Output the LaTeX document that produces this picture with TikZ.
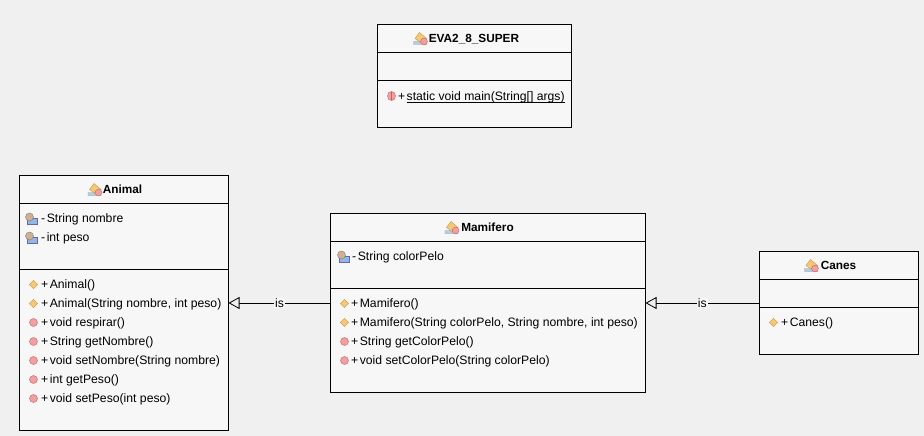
\documentclass[tikz,border=0pt]{standalone}
\usepackage{fontspec}
\setmainfont{Liberation Sans}
\usetikzlibrary{arrows.meta}
\definecolor{bgc}{HTML}{F0F0F0}
\definecolor{boxc}{HTML}{F7F7F7}
\definecolor{methc}{HTML}{F0A0A0}
\definecolor{methd}{HTML}{C86060}
\definecolor{ctorc}{HTML}{F5C878}
\definecolor{ctord}{HTML}{C89840}
\definecolor{fielda}{HTML}{90B8E0}
\definecolor{fieldb}{HTML}{D0B090}
\newcommand{\vis}[1]{#1\hspace{1.5pt}}
\tikzset{
 x=1pt,y=-1pt,
 classbox/.style={draw=black,line width=0.9pt,fill=boxc,inner sep=0pt,outer sep=0pt},
 sep/.style={draw=black,line width=0.9pt},
 title/.style={font=\fontsize{11.8}{12}\selectfont\bfseries,anchor=mid,inner sep=0pt,yshift=-1.8pt},
 member/.style={font=\fontsize{12.2}{13}\selectfont,anchor=mid west,inner sep=0pt,yshift=-1.8pt},
 gen/.style={draw=black,line width=0.8pt,-{Triangle[open,fill=bgc,length=11pt,width=12pt]}},
 islabel/.style={font=\fontsize{12.2}{13}\selectfont,fill=boxc,inner sep=1pt,midway},
 pics/methodicon/.style={code={\fill[methc,draw=methd,line width=0.4pt] (0,0) circle (4);}},
 pics/staticicon/.style={code={\fill[methc,draw=methd,line width=0.4pt] (0,0) ellipse (4 and 4.6);\draw[methd,line width=0.4pt] (0,-4.2)--(0,4.2);}},
 pics/ctoricon/.style={code={\fill[ctorc,draw=ctord,line width=0.4pt] (-4.2,0)--(0,-4.2)--(4.2,0)--(0,4.2)--cycle;}},
 pics/fieldicon/.style={code={\fill[fielda,draw=black!50!blue!60,line width=0.4pt] (-3.5,0) rectangle (6,6);\fill[fieldb,draw=black!50,line width=0.4pt] (-1.5,-1) circle (4);}},
 pics/classicon/.style={code={\fill[fielda!70!white,draw=black!40,line width=0.3pt] (-7,6)--(-7,3)--(-2,3)--(-2,0)--(6,6)--cycle;\fill[ctorc,draw=ctord,line width=0.4pt] (-5.5,0)--(-1,-6)--(6,0)--(1,4.5)--cycle;\fill[methc,draw=methd,line width=0.4pt] (3.5,3) circle (3.4);}},
}
\newcommand{\sepline}[3]{\draw[sep] (#1,#3) -- (#2,#3);}
\begin{document}
\begin{tikzpicture}
\useasboundingbox[fill=bgc] (0,0) rectangle (924,436);
% EVA2_8_SUPER
\node[classbox,minimum width=194pt,minimum height=103pt] (eva) at (474.5,75.8) {};
\sepline{377.5}{571.5}{52.3}
\sepline{377.5}{571.5}{80.3}
\pic at (420.5,38.5) {classicon};
\node[title] (evat) at (474,38.5) {EVA2\_8\_SUPER};
\pic at (391.5,96) {staticicon};
\node[member] (evam) at (398,96) {+};
\node[member] (evam2) at (406.5,96) {static void main(String[] args)};
\draw[line width=0.7pt] ([yshift=-2.2pt]evam2.base west) -- ([yshift=-2.2pt]evam2.base east);
% Animal
\node[classbox,minimum width=209pt,minimum height=255pt] (animal) at (124,303) {};
\sepline{19.5}{228.5}{203.3}
\sepline{19.5}{228.5}{269}
\pic at (95,189.5) {classicon};
\node[title] (animalt) at (122.5,189.5) {Animal};
\pic at (31,218) {fieldicon};
\node[member] (a1) at (41,218.5) {\vis{-}String nombre};
\pic at (31,237) {fieldicon};
\node[member] (a2) at (41,237.5) {\vis{-}int peso};
\pic at (33.5,284.5) {ctoricon};
\node[member] (a3) at (41,284.5) {\vis{+}Animal()};
\pic at (33.5,303.5) {ctoricon};
\node[member] (a4) at (41,303.5) {\vis{+}Animal(String nombre, int peso)};
\pic at (33.5,322.5) {methodicon};
\node[member] (a5) at (41,322.5) {\vis{+}void respirar()};
\pic at (33.5,341.5) {methodicon};
\node[member] (a6) at (41,341.5) {\vis{+}String getNombre()};
\pic at (33.5,360.5) {methodicon};
\node[member] (a7) at (41,360.5) {\vis{+}void setNombre(String nombre)};
\pic at (33.5,379.5) {methodicon};
\node[member] (a8) at (41,379.5) {\vis{+}int getPeso()};
\pic at (33.5,398.5) {methodicon};
\node[member] (a9) at (41,398.5) {\vis{+}void setPeso(int peso)};
% Mamifero
\node[classbox,minimum width=315pt,minimum height=179pt] (mamifero) at (488,303) {};
\sepline{330.5}{645.5}{241.5}
\sepline{330.5}{645.5}{288.5}
\pic at (452,227.5) {classicon};
\node[title] (mamt) at (487.5,227.5) {Mamifero};
\pic at (343,256) {fieldicon};
\node[member] (m1) at (352,256.5) {\vis{-}String colorPelo};
\pic at (344.5,303.5) {ctoricon};
\node[member] (m2) at (351,303.5) {\vis{+}Mamifero()};
\pic at (344.5,322.5) {ctoricon};
\node[member] (m3) at (351,322.5) {\vis{+}Mamifero(String colorPelo, String nombre, int peso)};
\pic at (344.5,341.5) {methodicon};
\node[member] (m4) at (351,341.5) {\vis{+}String getColorPelo()};
\pic at (344.5,360.5) {methodicon};
\node[member] (m5) at (351,360.5) {\vis{+}void setColorPelo(String colorPelo)};
% Canes
\node[classbox,minimum width=159pt,minimum height=103pt] (canes) at (838.5,303) {};
\sepline{759}{918}{279.5}
\sepline{759}{918}{307.5}
\pic at (811.5,265.5) {classicon};
\node[title] (canest) at (838.5,265.5) {Canes};
\pic at (773.5,322.5) {ctoricon};
\node[member] (c1) at (781,322.5) {\vis{+}Canes()};
% Connectors
\draw[gen] (mamifero.west) -- node[islabel] (is1) {is} (animal.east);
\draw[gen] (canes.west) -- node[islabel] (is2) {is} (mamifero.east);
\end{tikzpicture}
\end{document}
